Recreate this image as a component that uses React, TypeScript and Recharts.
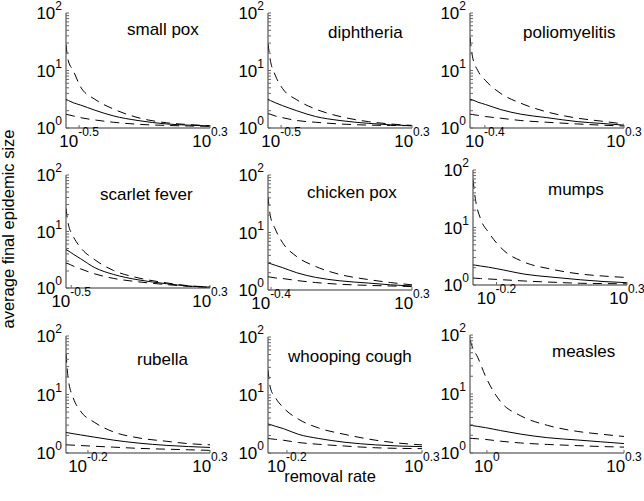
import React from "react";
import { LineChart, Line, XAxis, YAxis } from "recharts";

// ---- data: log10(removal rate) grid per disease and log10(average final epidemic size) ----
const diseases = [
  "small pox",
  "diphtheria",
  "poliomyelitis",
  "scarlet fever",
  "chicken pox",
  "mumps",
  "rubella",
  "whooping cough",
  "measles",
];

// left labelled x tick (exponent) and x-range (exponents)
const xTickLeft = [-0.5, -0.5, -0.4, -0.5, -0.4, -0.2, -0.2, -0.2, 0];
const xMinLog = [-0.58, -0.58, -0.475, -0.53, -0.415, -0.29, -0.29, -0.27, -0.037];
const xMaxLog = 0.3;
const yTicks = [0, 1, 2];
// log-axis minor tick positions (log10 of 2..9 within each decade)
const yMinorTicks = [0.301, 0.477, 0.602, 0.699, 0.778, 0.845, 0.903, 0.954, 1.301, 1.477, 1.602, 1.699, 1.778, 1.845, 1.903, 1.954];

const rateSmallPox = [-0.58, -0.567, -0.536, -0.492, -0.404, -0.29, -0.14, 0.036, 0.168, 0.3];
const rateDiphtheria = [-0.58, -0.567, -0.536, -0.492, -0.404, -0.29, -0.14, 0.036, 0.168, 0.3];
const ratePolio = [-0.475, -0.463, -0.436, -0.398, -0.32, -0.219, -0.088, 0.068, 0.184, 0.3];
const rateScarlet = [-0.53, -0.518, -0.489, -0.447, -0.364, -0.256, -0.115, 0.051, 0.176, 0.3];
const rateChicken = [-0.415, -0.404, -0.379, -0.344, -0.272, -0.179, -0.058, 0.086, 0.193, 0.3];
const rateMumps = [-0.29, -0.281, -0.261, -0.231, -0.172, -0.095, 0.005, 0.123, 0.212, 0.3];
const rateRubella = [-0.29, -0.281, -0.261, -0.231, -0.172, -0.095, 0.005, 0.123, 0.212, 0.3];
const rateWhooping = [-0.27, -0.261, -0.242, -0.213, -0.156, -0.082, 0.015, 0.129, 0.215, 0.3];
const rateMeasles = [-0.037, -0.032, -0.02, -0.003, 0.03, 0.074, 0.132, 0.199, 0.249, 0.3];

const upperSmallPox = [1.45, 1.18, 1.0, 0.72, 0.5, 0.33, 0.18, 0.09, 0.06, 0.04];
const midSmallPox = [0.5, 0.48, 0.44, 0.4, 0.31, 0.21, 0.13, 0.07, 0.05, 0.035];
const lowerSmallPox = [0.24, 0.23, 0.21, 0.18, 0.14, 0.1, 0.065, 0.045, 0.035, 0.03];

const upperDiphtheria = [1.47, 1.2, 0.92, 0.69, 0.49, 0.33, 0.2, 0.11, 0.07, 0.045];
const midDiphtheria = [0.5, 0.48, 0.44, 0.39, 0.3, 0.2, 0.13, 0.08, 0.055, 0.04];
const lowerDiphtheria = [0.25, 0.24, 0.21, 0.18, 0.13, 0.1, 0.07, 0.05, 0.045, 0.04];

const upperPolio = [1.58, 1.25, 1.0, 0.83, 0.6, 0.43, 0.28, 0.17, 0.12, 0.07];
const midPolio = [0.5, 0.49, 0.45, 0.41, 0.32, 0.24, 0.18, 0.11, 0.08, 0.05];
const lowerPolio = [0.24, 0.235, 0.22, 0.2, 0.17, 0.13, 0.1, 0.07, 0.05, 0.035];

const upperScarlet = [1.41, 1.15, 0.92, 0.72, 0.5, 0.31, 0.18, 0.09, 0.04, 0.02];
const midScarlet = [0.68, 0.66, 0.6, 0.52, 0.36, 0.24, 0.145, 0.075, 0.035, 0.015];
const lowerScarlet = [0.44, 0.43, 0.39, 0.34, 0.25, 0.17, 0.11, 0.06, 0.03, 0.01];

const upperChicken = [1.62, 1.3, 1.06, 0.83, 0.58, 0.41, 0.27, 0.18, 0.13, 0.09];
const midChicken = [0.47, 0.46, 0.43, 0.39, 0.3, 0.22, 0.16, 0.12, 0.09, 0.07];
const lowerChicken = [0.23, 0.225, 0.21, 0.2, 0.165, 0.13, 0.1, 0.08, 0.07, 0.06];

const upperMumps = [1.83, 1.5, 1.15, 0.92, 0.6, 0.4, 0.28, 0.19, 0.155, 0.13];
const midMumps = [0.35, 0.345, 0.33, 0.31, 0.26, 0.19, 0.14, 0.09, 0.06, 0.04];
const lowerMumps = [0.12, 0.118, 0.112, 0.105, 0.09, 0.07, 0.05, 0.03, 0.025, 0.02];

const upperRubella = [1.7, 1.27, 0.95, 0.72, 0.52, 0.36, 0.26, 0.2, 0.16, 0.14];
const midRubella = [0.35, 0.345, 0.33, 0.31, 0.27, 0.22, 0.17, 0.13, 0.11, 0.095];
const lowerRubella = [0.14, 0.138, 0.134, 0.128, 0.115, 0.1, 0.08, 0.065, 0.055, 0.045];

const upperWhooping = [1.43, 1.12, 0.95, 0.78, 0.58, 0.43, 0.32, 0.22, 0.17, 0.14];
const midWhooping = [0.5, 0.49, 0.46, 0.42, 0.32, 0.25, 0.185, 0.14, 0.12, 0.11];
const lowerWhooping = [0.25, 0.245, 0.235, 0.22, 0.18, 0.15, 0.12, 0.09, 0.08, 0.075];

const upperMeasles = [1.92, 1.8, 1.62, 1.3, 0.87, 0.63, 0.47, 0.365, 0.32, 0.28];
const midMeasles = [0.47, 0.465, 0.45, 0.43, 0.38, 0.32, 0.26, 0.22, 0.19, 0.16];
const lowerMeasles = [0.25, 0.247, 0.24, 0.23, 0.2, 0.17, 0.145, 0.125, 0.11, 0.1];

const rates = [rateSmallPox, rateDiphtheria, ratePolio, rateScarlet, rateChicken, rateMumps, rateRubella, rateWhooping, rateMeasles];
const uppers = [upperSmallPox, upperDiphtheria, upperPolio, upperScarlet, upperChicken, upperMumps, upperRubella, upperWhooping, upperMeasles];
const mids = [midSmallPox, midDiphtheria, midPolio, midScarlet, midChicken, midMumps, midRubella, midWhooping, midMeasles];
const lowers = [lowerSmallPox, lowerDiphtheria, lowerPolio, lowerScarlet, lowerChicken, lowerMumps, lowerRubella, lowerWhooping, lowerMeasles];

// ---- layout (pixels) ----
const layout = [
  { left: 66, top: 13, w: 144, h: 115, titleDx: 61, titleDy: 22 },
  { left: 268, top: 13, w: 144, h: 115, titleDx: 60, titleDy: 25 },
  { left: 470, top: 13, w: 154, h: 115, titleDx: 53, titleDy: 25 },
  { left: 66, top: 175, w: 144, h: 113, titleDx: 34, titleDy: 25 },
  { left: 268, top: 175, w: 144, h: 115, titleDx: 39, titleDy: 23 },
  { left: 473, top: 170, w: 154, h: 115, titleDx: 75, titleDy: 25 },
  { left: 66, top: 336, w: 144, h: 117, titleDx: 71, titleDy: 29 },
  { left: 268, top: 337, w: 154, h: 116, titleDx: 20, titleDy: 25 },
  { left: 470, top: 335, w: 154, h: 118, titleDx: 82, titleDy: 22 },
];

const FONT = '"Liberation Sans", Arial, Helvetica, sans-serif';
const BOX = "#333";
const TICK = "#666";
const DASH = "9 6";
const TL = 3;

const isMajor = (v: number) => Number.isInteger(v);

const YTick = (props: any) => {
  const { x, y, payload } = props;
  const v = payload.value;
  const px = x + 4;
  return (
    <g>
      <line x1={px} x2={px + TL} y1={y} y2={y} stroke={TICK} strokeWidth={1} />
      {isMajor(v) && (
        <text x={x} y={y + 6} textAnchor="end" fontFamily={FONT} fontSize={17} fill="#000">
          <tspan>10</tspan>
          <tspan fontSize={12} dy={-9}>{String(v)}</tspan>
        </text>
      )}
    </g>
  );
};

const YRightTick = (props: any) => {
  const { x, y } = props;
  return <line x1={x - TL} x2={x} y1={y} y2={y} stroke={TICK} strokeWidth={1} />;
};

const XTick = (props: any) => {
  const { x, y, payload } = props;
  return (
    <g>
      <line x1={x} x2={x} y1={y - TL} y2={y} stroke={TICK} strokeWidth={1} />
      <text x={x} y={y + 19} textAnchor="middle" fontFamily={FONT} fontSize={17} fill="#000">
        <tspan>10</tspan>
        <tspan fontSize={12} dy={-11}>{String(payload.value)}</tspan>
      </text>
    </g>
  );
};

const XTopTick = (props: any) => {
  const { x, y } = props;
  return <line x1={x} x2={x} y1={y} y2={y + TL} stroke={TICK} strokeWidth={1} />;
};

function Panel({ i }: { i: number }) {
  const l = layout[i];
  const data = rates[i].map((r, k) => ({ x: r, up: uppers[i][k], mid: mids[i][k], low: lowers[i][k] }));
  const xDomain = [xMinLog[i], xMaxLog];
  const xTicks = [xTickLeft[i], xMaxLog];
  const allY = [...yTicks, ...yMinorTicks].sort((a, b) => a - b);
  return (
    <div style={{ position: "absolute", left: l.left - 50, top: l.top - 15 }}>
      <LineChart
        width={l.w + 70}
        height={l.h + 45}
        data={data}
        margin={{ top: 15, right: 20, bottom: 0, left: 0 }}
        style={{ overflow: "visible" }}
      >
        <XAxis
          dataKey="x"
          type="number"
          domain={xDomain}
          ticks={xTicks}
          interval={0}
          allowDataOverflow
          height={30}
          tickLine={false}
          tickSize={0}
          tickMargin={0}
          axisLine={{ stroke: BOX }}
          tick={<XTick />}
        />
        <XAxis
          xAxisId="top"
          orientation="top"
          dataKey="x"
          type="number"
          domain={xDomain}
          ticks={xTicks}
          interval={0}
          allowDataOverflow
          height={0}
          tickLine={false}
          tickSize={0}
          tickMargin={0}
          tick={<XTopTick />}
          axisLine={{ stroke: BOX }}
        />
        <YAxis
          type="number"
          domain={[0, 2]}
          ticks={allY}
          interval={0}
          allowDataOverflow
          width={50}
          tickLine={false}
          tickSize={0}
          tickMargin={4}
          axisLine={{ stroke: BOX }}
          tick={<YTick />}
        />
        <YAxis
          yAxisId="right"
          orientation="right"
          type="number"
          domain={[0, 2]}
          ticks={allY}
          interval={0}
          allowDataOverflow
          width={0}
          tickLine={false}
          tickSize={0}
          tickMargin={0}
          tick={<YRightTick />}
          axisLine={{ stroke: BOX }}
        />
        <Line type="monotone" dataKey="up" stroke="#000" strokeWidth={1} strokeDasharray={DASH} dot={false} isAnimationActive={false} />
        <Line type="monotone" dataKey="mid" stroke="#000" strokeWidth={1} dot={false} isAnimationActive={false} />
        <Line type="monotone" dataKey="low" stroke="#000" strokeWidth={1} strokeDasharray={DASH} dot={false} isAnimationActive={false} />
      </LineChart>
    </div>
  );
}

export default function App() {
  return (
    <div style={{ position: "absolute", left: 0, top: 0, width: 644, height: 501, background: "#fff", overflow: "hidden" }}>
      {diseases.map((_, i) => (
        <Panel key={i} i={i} />
      ))}
      <svg width={644} height={501} style={{ position: "absolute", left: 0, top: 0, pointerEvents: "none" }}>
        {diseases.map((d, i) => (
          <text
            key={d}
            x={layout[i].left + layout[i].titleDx}
            y={layout[i].top + layout[i].titleDy}
            fontFamily={FONT}
            fontSize={17}
            fill="#000"
          >
            {d}
          </text>
        ))}
        <text x={330} y={482} textAnchor="middle" fontFamily={FONT} fontSize={16.5} fill="#000">
          removal rate
        </text>
        <text
          x={0}
          y={0}
          transform="translate(14,229) rotate(-90)"
          textAnchor="middle"
          fontFamily={FONT}
          fontSize={16.5}
          fill="#000"
        >
          average final epidemic size
        </text>
      </svg>
    </div>
  );
}
